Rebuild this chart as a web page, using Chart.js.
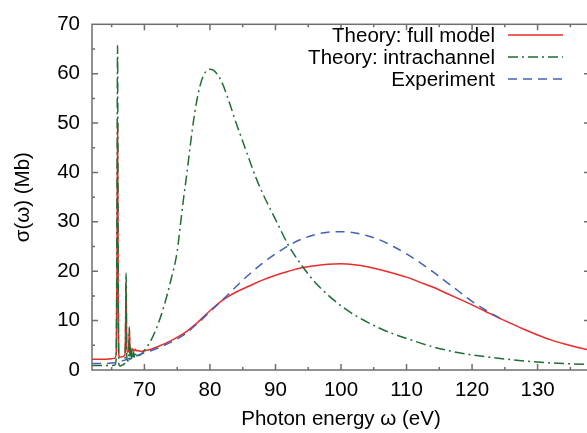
<!DOCTYPE html>
<html>
<head>
<meta charset="utf-8">
<script src="https://cdn.jsdelivr.net/npm/chart.js@4/dist/chart.umd.min.js"></script>
<style>
  html, body { margin: 0; padding: 0; background: #fff; overflow: hidden; }
  #wrap { width: 600px; height: 433px; }
</style>
</head>
<body>
<div id="wrap"><canvas id="chart" width="600" height="433"></canvas></div>
<script>
// x tick labels (eV) and y tick labels (Mb)
const xTicks = [70, 80, 90, 100, 110, 120, 130];
const yTicks = [0, 10, 20, 30, 40, 50, 60, 70];

// Theory: full model (red)
const modelX = [62, 63, 64, 65, 65.5, 65.7, 65.8, 65.9, 66.0, 66.1, 66.3, 66.6, 67.0, 67.1, 67.2, 67.3, 67.45, 67.6, 67.7, 67.8, 68.0, 68.2, 68.4, 68.6, 68.8, 69.0, 69.5, 70, 71, 72, 74, 76, 78, 80, 82, 84, 86, 88, 90, 92, 94, 96, 98, 100, 102, 104, 106, 108, 110, 112, 114, 116, 118, 120, 122, 124, 126, 128, 130, 132, 134, 136, 138];
const modelY = [2.2, 2.2, 2.2, 2.3, 2.4, 3.5, 18, 50, 14, 3.0, 2.6, 2.7, 3.0, 6, 17.5, 4.5, 3.6, 4.0, 8.2, 4.4, 3.9, 4.3, 3.8, 4.2, 3.9, 3.9, 3.8, 3.9, 4.2, 4.7, 5.9, 7.4, 9.5, 12.0, 14.2, 15.8, 17.0, 18.2, 19.2, 20.0, 20.7, 21.1, 21.4, 21.5, 21.3, 20.9, 20.3, 19.6, 18.8, 17.8, 16.8, 15.6, 14.4, 13.2, 11.9, 10.6, 9.4, 8.2, 7.1, 6.1, 5.3, 4.6, 4.0];

// Theory: intrachannel (green)
const intraX = [62, 63, 64, 65, 65.5, 65.7, 65.8, 65.9, 66.0, 66.1, 66.3, 66.6, 67.0, 67.1, 67.2, 67.3, 67.45, 67.6, 67.7, 67.8, 67.9, 68.0, 68.1, 68.2, 68.35, 68.5, 68.65, 68.8, 69.0, 69.5, 70, 71, 72, 73, 74, 75, 75.5, 76, 76.5, 77, 77.5, 78, 78.5, 79, 79.5, 80, 80.5, 81, 81.5, 82, 83, 84, 85, 86, 87, 88, 90, 92, 94, 96, 98, 100, 102, 104, 106, 108, 110, 114, 118, 122, 126, 130, 134, 138];
const intraY = [0.9, 0.9, 0.9, 0.9, 1.0, 2.5, 30, 65.7, 20, 1.2, 0.8, 1.0, 1.4, 5, 19.7, 3, 1.8, 2.2, 8.7, 2.0, 4.5, 2.2, 4.0, 2.2, 3.6, 2.4, 3.2, 2.6, 2.8, 3.2, 4.0, 6.0, 9.0, 13.0, 18.0, 24.0, 29.5, 35, 40, 45.5, 50.5, 54.6, 57.6, 59.6, 60.6, 60.9, 60.7, 60.1, 59.1, 57.7, 54, 50, 46.3, 42.6, 39, 35.9, 30.5, 25.2, 21.2, 17.8, 15.2, 13.0, 11.2, 9.7, 8.4, 7.3, 6.4, 4.7, 3.5, 2.7, 2.1, 1.6, 1.3, 1.1];

// Experiment (blue)
const expX = [62, 63, 64, 65, 66, 67, 68, 69, 70, 71, 72, 74, 76, 78, 80, 82, 84, 86, 88, 90, 92, 94, 96, 98, 100, 102, 104, 106, 108, 110, 112, 114, 116, 118, 120, 122, 124, 125];
const expY = [1.3, 1.3, 1.3, 1.4, 1.6, 2.0, 2.5, 3.0, 3.5, 3.9, 4.4, 5.6, 7.1, 9.3, 11.8, 14.3, 16.9, 19.4, 21.6, 23.5, 25.2, 26.5, 27.4, 27.9, 28.0, 27.8, 27.2, 26.3, 25.0, 23.5, 21.8, 19.9, 17.9, 15.9, 13.9, 12.2, 10.7, 10.0];

const RED = "#ee2a2a";
const GREEN = "#1f6e35";
const BLUE = "#4262b8";
const AXIS = "#6e6e6e";
const FONT = "'Liberation Sans', Arial, sans-serif";
const FSIZE = 20.5;

const DASH_DOT = [10, 4, 2, 4];
const DASHED = [9, 6];

const toPoints = (xs, ys) => xs.map((x, i) => ({ x, y: ys[i] }));

// 외곽 프레임 + 안쪽 방향 눈금 (gnuplot 스타일)
const frameTicks = {
  id: "frameTicks",
  afterDatasetsDraw(chart) {
    const { ctx, chartArea: a, scales } = chart;
    const x = scales.x, y = scales.y;
    ctx.save();
    ctx.strokeStyle = AXIS;
    ctx.lineWidth = 1.5;
    ctx.strokeRect(a.left, a.top, a.right - a.left, a.bottom - a.top);
    ctx.beginPath();
    for (let v = 65; v <= 135; v += 5) {
      const px = x.getPixelForValue(v);
      const len = v % 10 === 0 ? 6 : 3;
      ctx.moveTo(px, a.bottom); ctx.lineTo(px, a.bottom - len);
      ctx.moveTo(px, a.top); ctx.lineTo(px, a.top + len);
    }
    for (let v = 5; v <= 65; v += 5) {
      const py = y.getPixelForValue(v);
      const len = v % 10 === 0 ? 6 : 3;
      ctx.moveTo(a.left, py); ctx.lineTo(a.left + len, py);
      ctx.moveTo(a.right, py); ctx.lineTo(a.right - len, py);
    }
    ctx.stroke();
    ctx.restore();
  }
};

// 범례: 텍스트 오른쪽 정렬, 샘플 선은 오른쪽
const keyLegend = {
  id: "keyLegend",
  afterDraw(chart) {
    const { ctx } = chart;
    const items = [chart.data.datasets[2], chart.data.datasets[1], chart.data.datasets[0]];
    ctx.save();
    ctx.font = FSIZE + "px " + FONT;
    ctx.textAlign = "right";
    ctx.textBaseline = "middle";
    items.forEach((ds, i) => {
      const yy = 35 + i * 22;
      ctx.fillStyle = "#000";
      ctx.fillText(ds.label, 495, yy + 1);
      ctx.strokeStyle = ds.borderColor;
      ctx.lineWidth = ds.borderWidth;
      ctx.setLineDash(ds.borderDash || []);
      ctx.beginPath();
      ctx.moveTo(508, yy);
      ctx.lineTo(563, yy);
      ctx.stroke();
    });
    ctx.restore();
  }
};

new Chart(document.getElementById("chart"), {
  type: "line",
  data: {
    datasets: [
      {
        label: "Experiment",
        data: toPoints(expX, expY),
        borderColor: BLUE,
        borderWidth: 1.5,
        borderDash: DASHED,
        pointRadius: 0,
        cubicInterpolationMode: "monotone"
      },
      {
        label: "Theory: intrachannel",
        data: toPoints(intraX, intraY),
        borderColor: GREEN,
        borderWidth: 1.5,
        borderDash: DASH_DOT,
        pointRadius: 0,
        cubicInterpolationMode: "monotone"
      },
      {
        label: "Theory: full model",
        data: toPoints(modelX, modelY),
        borderColor: RED,
        borderWidth: 1.5,
        pointRadius: 0,
        cubicInterpolationMode: "monotone"
      }
    ]
  },
  options: {
    responsive: false,
    animation: false,
    layout: { padding: { top: 20, right: 10, left: 0, bottom: 0 } },
    plugins: {
      legend: { display: false },
      tooltip: { enabled: false }
    },
    scales: {
      x: {
        type: "linear",
        min: 62,
        max: 138,
        grid: { display: false, drawTicks: false },
        border: { display: false },
        afterBuildTicks: (s) => { s.ticks = xTicks.map((v) => ({ value: v })); },
        afterFit: (s) => { s.height = 63; },
        ticks: {
          padding: 8,
          color: "#000",
          font: { family: FONT, size: FSIZE },
          maxRotation: 0
        },
        title: {
          display: true,
          text: "Photon energy ω (eV)",
          color: "#000",
          font: { family: FONT, size: FSIZE },
          padding: { top: 0, bottom: 1 }
        }
      },
      y: {
        min: 0,
        max: 70,
        grid: { display: false, drawTicks: false },
        border: { display: false },
        afterBuildTicks: (s) => { s.ticks = yTicks.map((v) => ({ value: v })); },
        afterFit: (s) => { s.width = 92; },
        ticks: {
          padding: 12,
          color: "#000",
          font: { family: FONT, size: FSIZE }
        },
        title: {
          display: true,
          text: "σ(ω) (Mb)",
          color: "#000",
          font: { family: FONT, size: FSIZE },
          padding: { top: 11, bottom: 0 }
        }
      }
    }
  },
  plugins: [frameTicks, keyLegend]
});
</script>
</body>
</html>
